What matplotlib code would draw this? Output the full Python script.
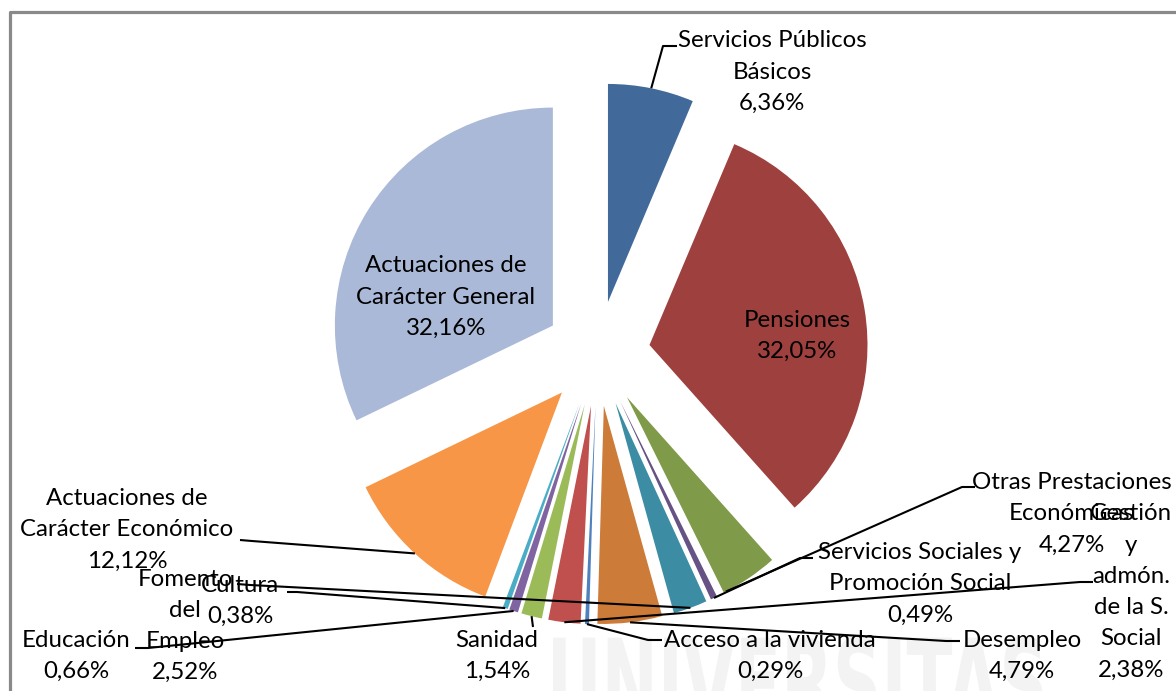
import matplotlib
matplotlib.use("Agg")
import matplotlib.pyplot as plt
from matplotlib.textpath import TextPath
from matplotlib.patches import PathPatch
from matplotlib.font_manager import FontProperties
from matplotlib.transforms import Affine2D
import numpy as np

plt.rcParams['font.family'] = ['Lato', 'DejaVu Sans']

W, H = 1176, 691

# data, clockwise from 12 o'clock
categories = ["Servicios Públicos\nBásicos", "Pensiones", "Otras Prestaciones\nEconómicas",
              "Servicios Sociales y\nPromoción Social", "Fomento\ndel\nEmpleo", "Desempleo",
              "Acceso a la vivienda", "Gestión\ny\nadmón.\nde la S.\nSocial", "Sanidad",
              "Educación", "Cultura", "Actuaciones de\nCarácter Económico",
              "Actuaciones de\nCarácter General"]
values = [6.36, 32.05, 4.27, 0.49, 2.52, 4.79, 0.29, 2.38, 1.54, 0.66, 0.38, 12.12, 32.16]
colors = ["#416A9B", "#9E403E", "#7F9A48", "#665284", "#3C8DA3", "#CD7B38",
          "#4F81BD", "#C0504D", "#9BBB59", "#8064A2", "#4BACC6", "#F79646", "#AAB9D7"]

# label layout (pixel coords of text block centre, leader elbow/end, anchor along arc)
label_pos = [(772, 72), (797, 336), (1072, 514), (920, 584), (185, 626), (1022, 656),
             (770, 656), (1131, 592), (497, 656), (76, 656), (240, 601), (127, 530), (446, 297)]
leaders = [[(663, 46), (677, 46)], None, [(962, 487), (975, 487)], [(800, 558), (813, 558)],
           [(250, 585), (237, 584)], [(946, 641), (960, 641)], [(648, 640), (662, 640)],
           [(1080, 582), (1093, 582)], [(533, 627)], [(148, 648), (135, 648)],
           [(297, 592), (287, 592)], [(252, 541), (240, 540)], None]
anchor_frac = [0.5, 0.5, 0.04, 0.5, 0.5, 0.5, 0.5, 0.5, 0.5, 0.5, 0.5, 0.5, 0.5]


def px(x, y):
    return x, H - y


fig = plt.figure(figsize=(W / 100, H / 100), dpi=100)
ax = fig.add_axes([0, 0, 1, 1])

wedges, _ = ax.pie(values, colors=colors, startangle=90, counterclock=False,
                   radius=218, center=px(597.5, 353.6), explode=[52.7] * len(values),
                   wedgeprops=dict(linewidth=0))

ax.set_xlim(0, W)
ax.set_ylim(0, H)
ax.set_aspect('equal')
ax.axis('off')

# faint condensed watermark at the bottom
tp = TextPath((0, 0), "UNIVERSITAS", size=100, prop=FontProperties(family='DejaVu Sans', weight='bold'))
ext = tp.get_extents()
sx = 490 / ext.width
sy = 92 / ext.height
tr = Affine2D().translate(-ext.x0, -ext.y1).scale(sx, sy).translate(553, H - 636)
ax.add_patch(PathPatch(tr.transform_path(tp), facecolor='#F3F3F3', edgecolor='none', zorder=0))

for i, w in enumerate(wedges):
    txt = categories[i] + "\n" + f"{values[i]:.2f}".replace('.', ',') + "%"
    x, y = label_pos[i]
    ax.text(*px(x, y), txt, ha='center', va='center', fontsize=17.3,
            linespacing=1.6, color='black', zorder=5)
    if leaders[i] is None:
        continue
    a = np.radians(w.theta1 + anchor_frac[i] * (w.theta2 - w.theta1))
    cx, cy = w.center
    pts = [(cx + w.r * np.cos(a), cy + w.r * np.sin(a))] + [px(*p) for p in leaders[i]]
    xs, ys = zip(*pts)
    ax.plot(xs, ys, color='black', lw=1.5, zorder=4, solid_capstyle='butt')

# chart border
ax.plot([10, 10, W + 5], [-5, H - 12, H - 12], color='#898989', lw=2.3, clip_on=False)

fig.savefig("out.png", dpi=100)
